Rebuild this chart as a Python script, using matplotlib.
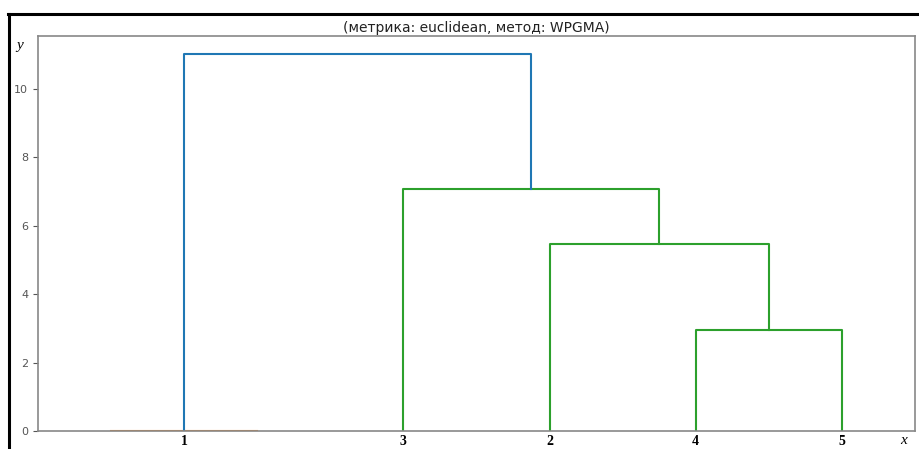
import numpy as np
import matplotlib
matplotlib.use("Agg")
import matplotlib.pyplot as plt
from matplotlib.lines import Line2D

# linkage rows: left id, right id, merge distance (6 observations, ids >= 6 are clusters)
left_ids = [0, 4, 3, 2, 6]
right_ids = [1, 5, 7, 8, 9]
distances = [0.0, 2.94, 5.45, 7.08, 11.0]
link_colors = ["C1", "C2", "C2", "C2", "C0"]

tick_pos = [10, 25, 35, 45, 55]
tick_labels = ["1", "3", "2", "4", "5"]

n_leaves = len(left_ids) + 1


def leaf_order(node):
    if node < n_leaves:
        return [node]
    k = node - n_leaves
    return leaf_order(left_ids[k]) + leaf_order(right_ids[k])


order = leaf_order(2 * n_leaves - 2)
leaf_x = {leaf: 5 + 10 * i for i, leaf in enumerate(order)}
node_x = dict(leaf_x)
node_h = {leaf: 0.0 for leaf in order}

fig = plt.figure(figsize=(9.2, 4.49), dpi=100)
ax = fig.add_axes([38 / 920, 18 / 449, 877 / 920, 395.5 / 449])

for k in range(len(left_ids)):
    a, b, d = left_ids[k], right_ids[k], distances[k]
    xs = [node_x[a], node_x[a], node_x[b], node_x[b]]
    ys = [node_h[a], d, d, node_h[b]]
    ax.plot(xs, ys, color=link_colors[k], lw=1.5)
    node_x[n_leaves + k] = (node_x[a] + node_x[b]) / 2
    node_h[n_leaves + k] = d

ax.set_xlim(0, 10 * n_leaves)
ax.set_ylim(0, max(distances) * 1.05)
ax.set_yticks([0, 2, 4, 6, 8, 10])
ax.set_xticks(tick_pos)
ax.set_xticklabels(tick_labels, fontfamily="Liberation Serif",
                   fontweight="bold", fontsize=10, color="black")
ax.tick_params(axis="x", length=0, pad=3)
ax.tick_params(axis="y", labelsize=8, colors="#555555", length=3.5)
for s in ax.spines.values():
    s.set_color("#888888")
    s.set_linewidth(1.2)

ax.set_title("(метрика: euclidean, метод: WPGMA)", fontsize=10, pad=2, color="#222222")
fig.text(20 / 920, 1 - 45 / 449, "y", fontfamily="Liberation Serif",
         style="italic", fontsize=11, ha="center", va="center")
fig.text(904 / 920, 1 - 441 / 449, "x", fontfamily="Liberation Serif",
         style="italic", fontsize=11, ha="center", va="center")

# outer black frame on top and left edges
fig.add_artist(Line2D([8 / 920, 1.0], [1 - 14 / 449, 1 - 14 / 449],
                      color="black", lw=2.2, transform=fig.transFigure))
fig.add_artist(Line2D([9 / 920, 9 / 920], [0.0, 1 - 14 / 449],
                      color="black", lw=2.2, transform=fig.transFigure))

fig.savefig("out.png", dpi=100)
